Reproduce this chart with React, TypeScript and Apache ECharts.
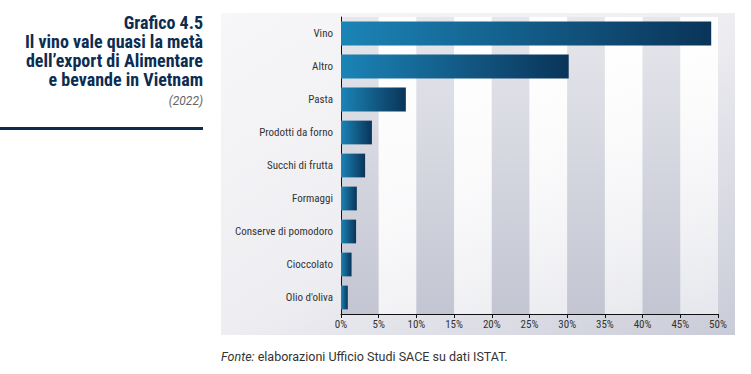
import React, { useEffect, useRef } from "react";
import * as echarts from "echarts";

const categories = [
  "Vino",
  "Altro",
  "Pasta",
  "Prodotti da forno",
  "Succhi di frutta",
  "Formaggi",
  "Conserve di pomodoro",
  "Cioccolato",
  "Olio d'oliva",
];
const values = [49.1, 30.2, 8.6, 4.1, 3.2, 2.1, 2.0, 1.4, 0.9];
const titleLines = [
  "Grafico 4.5",
  "Il vino vale quasi la metà",
  "dell\u2019export di Alimentare",
  "e bevande in Vietnam",
];
const yearLabel = "(2022)";
const sourceLabel = "elaborazioni Ufficio Studi SACE su dati ISTAT.";

const condensed = "'Roboto Condensed', 'Liberation Sans Narrow', 'DejaVu Sans Condensed', Roboto, sans-serif";

export default function App() {
  const ref = useRef<HTMLDivElement>(null);
  useEffect(() => {
    if (!ref.current) return;
    const chart = echarts.init(ref.current, undefined, { renderer: "svg" });
    const barGrad = new echarts.graphic.LinearGradient(0, 0, 1, 0, [
      { offset: 0, color: "#1b84b6" },
      { offset: 1, color: "#0a3459" },
    ]);
    const darkBand = new echarts.graphic.LinearGradient(0, 0, 0, 1, [
      { offset: 0, color: "rgba(230,231,236,1)" },
      { offset: 1, color: "rgba(195,197,210,1)" },
    ]);
    const lightBand = new echarts.graphic.LinearGradient(0, 0, 0, 1, [
      { offset: 0, color: "rgba(255,255,255,1)" },
      { offset: 1, color: "rgba(255,255,255,0.5)" },
    ]);
    const titleGraphics = titleLines.map((t, i) => ({
      type: "text",
      right: 751 - 203,
      top: 13 + i * 19.3,
      style: {
        text: t,
        font: `bold 18px ${condensed}`,
        fill: "#0d2d50",
        textAlign: "right",
      },
    }));
    chart.setOption({
      animation: false,
      grid: { left: 341, right: 33, top: 17, bottom: 60, containLabel: false },
      graphic: [
        {
          type: "rect",
          z: -10,
          shape: { x: 221, y: 13, width: 514, height: 322 },
          style: {
            fill: new echarts.graphic.LinearGradient(0, 0, 1, 1, [
              { offset: 0, color: "#f7f7f9" },
              { offset: 0.5, color: "#eeeef2" },
              { offset: 1, color: "#c9cbd7" },
            ]),
          },
        },
        ...titleGraphics,
        {
          type: "text",
          right: 751 - 203,
          top: 95,
          style: {
            text: yearLabel,
            font: "italic 12px Roboto, sans-serif",
            fill: "#666",
            textAlign: "right",
          },
        },
        {
          type: "rect",
          shape: { x: 0, y: 127, width: 203, height: 3 },
          style: { fill: "#0d2d50" },
        },
        {
          type: "text",
          left: 221,
          top: 350,
          style: {
            text: "{i|Fonte:} " + sourceLabel,
            font: "12.5px Roboto, sans-serif",
            fill: "#333",
            rich: {
              i: { fontStyle: "italic", fontSize: 12.5, fontFamily: "Roboto, sans-serif", fill: "#333" },
            },
          },
        },
      ],
      xAxis: {
        type: "value",
        min: 0,
        max: 50,
        interval: 5,
        axisLine: { show: true, lineStyle: { color: "#111", width: 1 } },
        axisTick: { show: true, length: 4, lineStyle: { color: "#111" } },
        axisLabel: {
          formatter: "{value}%",
          color: "#333",
          fontSize: 11,
          fontFamily: condensed,
          margin: 5,
        },
        splitLine: { show: false },
        splitArea: { show: true, areaStyle: { color: [darkBand, lightBand] } },
      },
      yAxis: {
        type: "category",
        inverse: true,
        data: categories,
        axisLine: { show: true, lineStyle: { color: "#111", width: 1 } },
        axisTick: { show: false },
        axisLabel: { color: "#333", fontSize: 11, fontFamily: condensed, margin: 8 },
      },
      series: [
        {
          type: "bar",
          data: values,
          barWidth: "72%",
          itemStyle: { color: barGrad },
        },
      ],
    });
    return () => chart.dispose();
  }, []);
  return <div ref={ref} style={{ width: 751, height: 374, position: "absolute", left: 0, top: 0 }} />;
}
